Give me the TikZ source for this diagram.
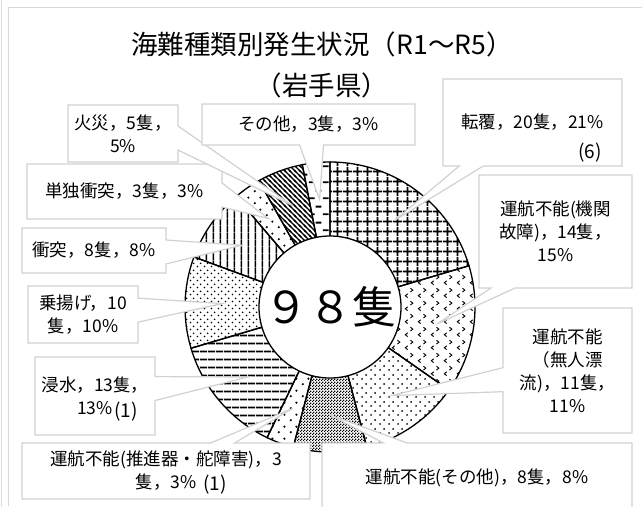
\documentclass[tikz,border=0pt]{standalone}
\usepackage{fontspec}
\setmainfont{Noto Sans CJK JP}
\usetikzlibrary{patterns,shapes.callouts}

% fill patterns of the slices
\pgfdeclarepatternformonly{bigcross}{\pgfqpoint{0pt}{0pt}}{\pgfqpoint{9.5pt}{9.5pt}}{\pgfqpoint{9.5pt}{9.5pt}}{
  \pgfsetlinewidth{1.8pt}
  \pgfpathmoveto{\pgfqpoint{4.75pt}{0pt}}\pgfpathlineto{\pgfqpoint{4.75pt}{9.5pt}}
  \pgfpathmoveto{\pgfqpoint{0pt}{4.75pt}}\pgfpathlineto{\pgfqpoint{9.5pt}{4.75pt}}
  \pgfusepath{stroke}}
\pgfdeclarepatternformonly{chevrons}{\pgfqpoint{0pt}{0pt}}{\pgfqpoint{13pt}{13pt}}{\pgfqpoint{13pt}{13pt}}{
  \pgfsetlinewidth{1pt}
  \pgfpathmoveto{\pgfqpoint{5pt}{5.5pt}}\pgfpathlineto{\pgfqpoint{2.5pt}{3.5pt}}\pgfpathlineto{\pgfqpoint{5pt}{1.5pt}}
  \pgfpathmoveto{\pgfqpoint{8pt}{11.5pt}}\pgfpathlineto{\pgfqpoint{10.5pt}{9.5pt}}\pgfpathlineto{\pgfqpoint{8pt}{7.5pt}}
  \pgfusepath{stroke}}
\pgfdeclarepatternformonly{looseDots}{\pgfqpoint{0pt}{0pt}}{\pgfqpoint{9pt}{9pt}}{\pgfqpoint{9pt}{9pt}}{
  \pgfpathcircle{\pgfqpoint{2.25pt}{2.25pt}}{1.1pt}
  \pgfpathcircle{\pgfqpoint{6.75pt}{6.75pt}}{1.1pt}
  \pgfusepath{fill}}
\pgfdeclarepatternformonly{denseDots}{\pgfqpoint{0pt}{0pt}}{\pgfqpoint{7pt}{7pt}}{\pgfqpoint{7pt}{7pt}}{
  \pgfpathcircle{\pgfqpoint{1.75pt}{1.75pt}}{1pt}
  \pgfpathcircle{\pgfqpoint{5.25pt}{5.25pt}}{1pt}
  \pgfusepath{fill}}
\pgfdeclarepatternformonly{sparseDots}{\pgfqpoint{0pt}{0pt}}{\pgfqpoint{12pt}{12pt}}{\pgfqpoint{12pt}{12pt}}{
  \pgfpathcircle{\pgfqpoint{3pt}{3pt}}{1.3pt}
  \pgfpathcircle{\pgfqpoint{9pt}{9pt}}{1.3pt}
  \pgfusepath{fill}}
\pgfdeclarepatternformonly{checker}{\pgfqpoint{0pt}{0pt}}{\pgfqpoint{3pt}{3pt}}{\pgfqpoint{3pt}{3pt}}{
  \pgfpathrectangle{\pgfqpoint{0pt}{0pt}}{\pgfqpoint{1.6pt}{1.6pt}}
  \pgfpathrectangle{\pgfqpoint{1.5pt}{1.5pt}}{\pgfqpoint{1.6pt}{1.6pt}}
  \pgfusepath{fill}}
\pgfdeclarepatternformonly{hbars}{\pgfqpoint{0pt}{0pt}}{\pgfqpoint{8pt}{8pt}}{\pgfqpoint{8pt}{8pt}}{
  \pgfsetlinewidth{2pt}
  \pgfpathmoveto{\pgfqpoint{0pt}{4pt}}\pgfpathlineto{\pgfqpoint{8pt}{4pt}}
  \pgfusepath{stroke}}
\pgfdeclarepatternformonly{vbars}{\pgfqpoint{0pt}{0pt}}{\pgfqpoint{7.3pt}{7.3pt}}{\pgfqpoint{7.3pt}{7.3pt}}{
  \pgfsetlinewidth{1.6pt}
  \pgfpathmoveto{\pgfqpoint{3.65pt}{0pt}}\pgfpathlineto{\pgfqpoint{3.65pt}{7.3pt}}
  \pgfusepath{stroke}}
\pgfdeclarepatternformonly{diagbars}{\pgfqpoint{-1pt}{-1pt}}{\pgfqpoint{6pt}{6pt}}{\pgfqpoint{5pt}{5pt}}{
  \pgfsetlinewidth{1.1pt}
  \pgfpathmoveto{\pgfqpoint{0pt}{5pt}}\pgfpathlineto{\pgfqpoint{5pt}{0pt}}
  \pgfpathmoveto{\pgfqpoint{-1pt}{1pt}}\pgfpathlineto{\pgfqpoint{1pt}{-1pt}}
  \pgfpathmoveto{\pgfqpoint{4pt}{6pt}}\pgfpathlineto{\pgfqpoint{6pt}{4pt}}
  \pgfusepath{stroke}}
\pgfdeclarepatternformonly{dashbars}{\pgfqpoint{0pt}{0pt}}{\pgfqpoint{14pt}{16pt}}{\pgfqpoint{14pt}{16pt}}{
  \pgfsetlinewidth{2pt}
  \pgfpathmoveto{\pgfqpoint{1pt}{4pt}}\pgfpathlineto{\pgfqpoint{7pt}{4pt}}
  \pgfpathmoveto{\pgfqpoint{8pt}{12pt}}\pgfpathlineto{\pgfqpoint{14pt}{12pt}}
  \pgfusepath{stroke}}

\begin{document}
\begin{tikzpicture}[x=1pt,y=-1pt]
\tikzstyle{frame line}=[draw=black!15, line width=1.2pt]
\tikzstyle{slice}=[draw=black, line width=1.3pt]
\tikzstyle{hole}=[circle, draw=black, fill=white, line width=1.3pt, minimum size=142pt, inner sep=0pt, font=\fontsize{44}{44}\selectfont]
\tikzstyle{title text}=[font=\fontsize{26.5}{26.5}\selectfont, inner sep=0pt]
\tikzstyle{label box}=[rectangle callout, draw=black!18, fill=white, line width=1.2pt, callout pointer width=24pt, align=center, inner sep=0pt, font=\fontsize{17.5}{23}\selectfont]
\tikzstyle{note}=[inner sep=0pt, font=\fontsize{19}{19}\selectfont]

\useasboundingbox (0,0) rectangle (642,506);
\fill[white] (0,0) rectangle (642,506);
\draw[frame line] (1.5,0) -- (1.5,506);
\draw[frame line] (8.5,506) -- (8.5,7.5) -- (642,7.5);

% Draw the doughnut slices (98 boats, clockwise from the top)
\def\cum{0}
\begin{scope}[shift={(330,307)}]
\foreach \n/\pat/\id in {20/bigcross/tenpuku, 14/chevrons/kikan, 11/looseDots/mujin,
    8/checker/unkoother, 3/sparseDots/suishin, 13/hbars/shinsui, 10/denseDots/noriage,
    8/vbars/shototsu, 3/sparseDots/tandoku, 5/diagbars/kasai, 3/dashbars/other} {
        \pgfmathsetmacro{\angA}{-90 + \cum / 98 * 360}
        \pgfmathsetmacro{\angB}{\angA + \n / 98 * 360}
        \pgfmathsetmacro{\angM}{(\angA + \angB) / 2}
        \pgfmathtruncatemacro{\cumNext}{\cum + \n}
        \draw[slice, pattern=\pat] (0,0) -- (\angA:145) arc[start angle=\angA, end angle=\angB, radius=145] -- cycle;
        \coordinate (tip-\id) at (\angM:108);
        \xdef\cum{\cumNext}
    }
\node[hole] (hole) at (0,0) {９８隻};
\end{scope}

% callout labels
\node[label box, minimum width=179pt, minimum height=87pt, callout absolute pointer={(tip-tenpuku)}] (tenpuku) at (532.5,122.5) {転覆，20隻，21\%};
\node[label box, minimum width=153pt, minimum height=113pt, callout absolute pointer={(tip-kikan)}] (kikan) at (555.5,231.5) {運航不能(機関\\故障)，14隻，\\15\%};
\node[label box, minimum width=129pt, minimum height=125pt, callout absolute pointer={(tip-mujin)}] (mujin) at (567.5,370.5) {運航不能\\（無人漂\\流)，11隻，\\11\%};
\node[label box, minimum width=310pt, minimum height=70pt, callout absolute pointer={(tip-unkoother)}] (unkoother) at (477,478) {運航不能(その他)，8隻，8\%};
\node[label box, minimum width=288pt, minimum height=56pt, callout absolute pointer={(tip-suishin)}] (suishin) at (166,471) {運航不能(推進器・舵障害)，3\\隻，3\%};
\node[label box, minimum width=120pt, minimum height=78pt, callout absolute pointer={(tip-shinsui)}] (shinsui) at (95,396) {浸水，13隻，\\13\%};
\node[label box, minimum width=110pt, minimum height=57pt, callout absolute pointer={(tip-noriage)}] (noriage) at (83,314.5) {乗揚げ，10\\隻，10\%};
\node[label box, minimum width=144pt, minimum height=45pt, callout absolute pointer={(tip-shototsu)}] (shototsu) at (94,250.5) {衝突，8隻，8\%};
\node[label box, minimum width=195pt, minimum height=55pt, callout absolute pointer={(tip-tandoku)}] (tandoku) at (124.5,191.5) {単独衝突，3隻，3\%};
\node[label box, minimum width=110pt, minimum height=57pt, callout absolute pointer={(tip-kasai)}] (kasai) at (123,133.5) {火災，5隻，\\5\%};
\node[label box, minimum width=213pt, minimum height=41pt, callout absolute pointer={(tip-other)}] (other) at (308.5,124.5) {その他，3隻，3\%};

% added counts
\node[note] (note-tenpuku) at (590,153) {(6)};
\node[note] (note-shinsui) at (126,412) {(1)};
\node[note] (note-suishin) at (215,485) {(1)};

% title
\node[title text] (title) at (322,44) {海難種類別発生状況（R1～R5）};
\node[title text] (subtitle) at (322,85) {（岩手県）};

\end{tikzpicture}
\end{document}
